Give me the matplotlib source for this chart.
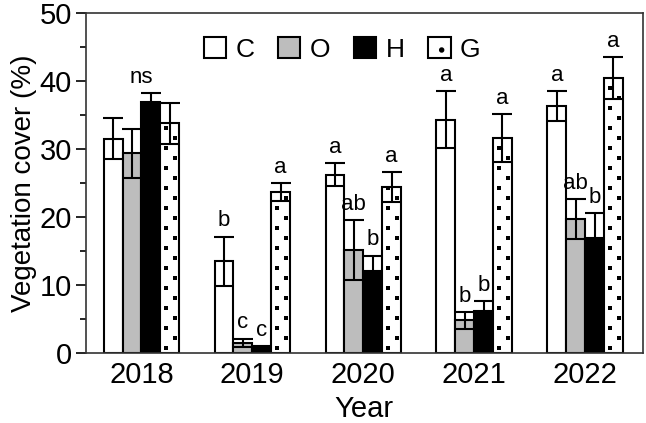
import numpy as np
import matplotlib
matplotlib.use("Agg")
import matplotlib.pyplot as plt
from matplotlib.patches import Patch

plt.rcParams['font.family'] = ['Liberation Sans', 'DejaVu Sans']
plt.rcParams['hatch.linewidth'] = 1.5

years = ['2018', '2019', '2020', '2021', '2022']
treatments = ['C', 'O', 'H', 'G']

mean_c = [31.5, 13.5, 26.2, 34.3, 36.3]
mean_o = [29.4, 1.5, 15.1, 4.8, 19.7]
mean_h = [36.9, 0.7, 12.1, 6.2, 16.9]
mean_g = [33.8, 23.7, 24.4, 31.6, 40.4]

err_c = [3.0, 3.6, 1.7, 4.2, 2.2]
err_o = [3.6, 0.6, 4.4, 1.2, 2.9]
err_h = [1.3, 0.3, 2.2, 1.4, 3.7]
err_g = [3.0, 1.3, 2.2, 3.5, 3.1]

letters_c = ['', 'b', 'a', 'a', 'a']
letters_o = ['', 'c', 'ab', 'b', 'ab']
letters_h = ['', 'c', 'b', 'b', 'b']
letters_g = ['', 'a', 'a', 'a', 'a']
group_label = ['ns', '', '', '', '']

means = [mean_c, mean_o, mean_h, mean_g]
errs = [err_c, err_o, err_h, err_g]
letters = [letters_c, letters_o, letters_h, letters_g]
faces = ['white', '#bdbdbd', 'black', 'white']

fig = plt.figure(figsize=(6.46, 4.23), dpi=100)
ax = fig.add_axes([0.133, 0.1655, 0.862, 0.8035])
ax.set_xlim(-0.5, 4.52)
ax.set_ylim(0, 50)

x = np.arange(len(years))
w = 0.17
# pixel -> data conversions for the dotted fill of G
ppx = 0.862 * 646 / 5.02
ppy = 0.8035 * 423 / 50.0

for i in range(4):
    pos = x + (i - 1.5) * w
    bars = ax.bar(pos, means[i], width=w, color=faces[i], edgecolor='black',
                  linewidth=1.5, zorder=2)
    if treatments[i] == 'G':
        for b in bars:
            x0 = b.get_x()
            h = b.get_height()
            for dx, dy in [(6, 5), (15, 15)]:
                ys = np.arange(dy / ppy, h, 20 / ppy)
                xs = np.full_like(ys, x0 + dx / ppx)
                pts, = ax.plot(xs, ys, 's', ms=3.1, color='black', mew=0, zorder=2.5)
                pts.set_clip_path(b)
    ax.errorbar(pos, means[i], yerr=errs[i], fmt='none', ecolor='black',
                elinewidth=1.5, capsize=7, capthick=1.5, zorder=3)
    for p, m, e, t in zip(pos, means[i], errs[i], letters[i]):
        if t:
            ax.text(p, m + e + 0.8, t, ha='center', va='bottom', fontsize=16)

for xi, t in zip(x, group_label):
    if t:
        top = max(means[i][xi] + errs[i][xi] for i in range(4))
        ax.text(xi, top + 0.8, t, ha='center', va='bottom', fontsize=16)

ax.set_xticks(x)
ax.set_xticklabels(years)
ax.set_yticks(np.arange(0, 51, 10))
ax.set_yticks(np.arange(5, 50, 10), minor=True)
ax.tick_params(axis='both', which='major', labelsize=21, width=1.2, length=7, direction='out')
ax.tick_params(axis='y', which='minor', width=1.2, length=4, direction='out')
ax.tick_params(axis='x', which='major', length=0, pad=6)
ax.tick_params(axis='y', which='major', pad=3)
for s in ax.spines.values():
    s.set_linewidth(1.2)
    s.set_color('#333333')

ax.set_xlabel('Year', fontsize=21, labelpad=4)
ax.set_ylabel('Vegetation cover (%)', fontsize=20, labelpad=2)

handles = [Patch(facecolor=faces[i], edgecolor='black', linewidth=1.5,
                 hatch='.' if treatments[i] == 'G' else None) for i in range(4)]
ax.legend(handles, treatments, loc='upper center', bbox_to_anchor=(0.46, 1.0), ncol=4,
          frameon=False, fontsize=19, handlelength=0.85, handleheight=0.85,
          handletextpad=0.35, columnspacing=0.9, borderaxespad=0.5)

fig.savefig('out.png', dpi=100)
